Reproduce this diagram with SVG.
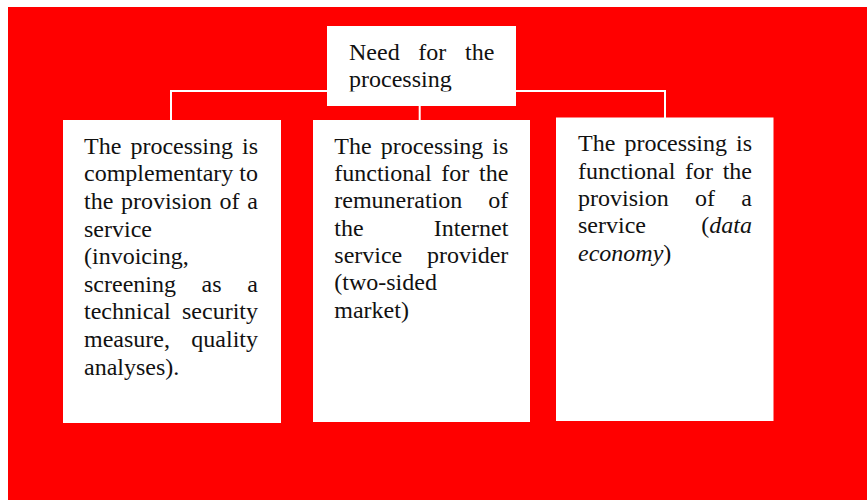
<svg xmlns="http://www.w3.org/2000/svg" width="867" height="500" viewBox="0 0 867 500">
  <defs>
    <style>
      .box { fill: #ffffff; }
      .wire { stroke: #ffffff; stroke-width: 2; fill: none; }
      .t { font-family: "Liberation Serif", "Times New Roman", serif; font-size: 24px; fill: #111111; }
      .e { text-anchor: end; }
      .i { font-style: italic; }
    </style>
    <clipPath id="topClip">
      <rect x="327" y="26" width="189" height="65.5"/>
    </clipPath>
  </defs>

  <!-- page -->
  <rect x="0" y="0" width="867" height="500" fill="#ffffff"/>
  <rect x="8" y="7" width="859" height="493" fill="#ff0000"/>

  <!-- connectors -->
  <g id="connectors">
    <path class="wire" d="M171 91 H665"/>
    <path class="wire" d="M171 90 V121"/>
    <path class="wire" d="M665 90 V118"/>
    <path class="wire" d="M419.7 105 V121"/>
  </g>

  <!-- root -->
  <g id="need">
    <rect class="box" x="327" y="26" width="189" height="80"/>
    <g clip-path="url(#topClip)">
      <text class="t" y="59.5"><tspan x="349">Need</tspan><tspan x="418.3">for</tspan><tspan x="494.3" class="e">the</tspan></text>
      <text class="t" x="349" y="87.3">processing</text>
    </g>
  </g>

  <!-- left -->
  <g id="complementary">
    <rect class="box" x="63" y="120" width="218" height="303"/>
    <text class="t" y="153.8"><tspan x="84">The</tspan><tspan x="130.4">processing</tspan><tspan x="258" class="e">is</tspan></text>
    <text class="t" y="181.4"><tspan x="84">complementary</tspan><tspan x="258" class="e">to</tspan></text>
    <text class="t" y="209"><tspan x="84">the</tspan><tspan x="121.1">provision</tspan><tspan x="219.6">of</tspan><tspan x="258" class="e">a</tspan></text>
    <text class="t" x="84" y="236.6">service</text>
    <text class="t" x="84" y="264.2">(invoicing,</text>
    <text class="t" y="291.8"><tspan x="84">screening</tspan><tspan x="201.6">as</tspan><tspan x="258" class="e">a</tspan></text>
    <text class="t" y="319.4"><tspan x="84">technical</tspan><tspan x="258" class="e">security</tspan></text>
    <text class="t" y="347"><tspan x="84">measure,</tspan><tspan x="258" class="e">quality</tspan></text>
    <text class="t" x="84" y="374.6">analyses).</text>
  </g>

  <!-- middle -->
  <g id="remuneration">
    <rect class="box" x="313" y="120" width="217" height="302"/>
    <text class="t" y="153.6"><tspan x="334.3">The</tspan><tspan x="380.7">processing</tspan><tspan x="508.3" class="e">is</tspan></text>
    <text class="t" y="181"><tspan x="334.3">functional</tspan><tspan x="441.3">for</tspan><tspan x="508.3" class="e">the</tspan></text>
    <text class="t" y="208.3"><tspan x="334.3">remuneration</tspan><tspan x="508.3" class="e">of</tspan></text>
    <text class="t" y="235.6"><tspan x="334.3">the</tspan><tspan x="508.3" class="e">Internet</tspan></text>
    <text class="t" y="262.9"><tspan x="334.3">service</tspan><tspan x="508.3" class="e">provider</tspan></text>
    <text class="t" x="334.3" y="290.2">(two-sided</text>
    <text class="t" x="334.3" y="317.5">market)</text>
  </g>

  <!-- right -->
  <g id="economy">
    <rect class="box" x="556" y="117.5" width="217.5" height="303.5"/>
    <text class="t" y="151.3"><tspan x="578">The</tspan><tspan x="624.4">processing</tspan><tspan x="752" class="e">is</tspan></text>
    <text class="t" y="178.7"><tspan x="578">functional</tspan><tspan x="685">for</tspan><tspan x="752" class="e">the</tspan></text>
    <text class="t" y="206"><tspan x="578">provision</tspan><tspan x="695">of</tspan><tspan x="752" class="e">a</tspan></text>
    <text class="t" y="233.3"><tspan x="578">service</tspan><tspan x="752" class="e">(<tspan class="i">data</tspan></tspan></text>
    <text class="t" x="578" y="260.7"><tspan class="i">economy</tspan>)</text>
  </g>
</svg>
